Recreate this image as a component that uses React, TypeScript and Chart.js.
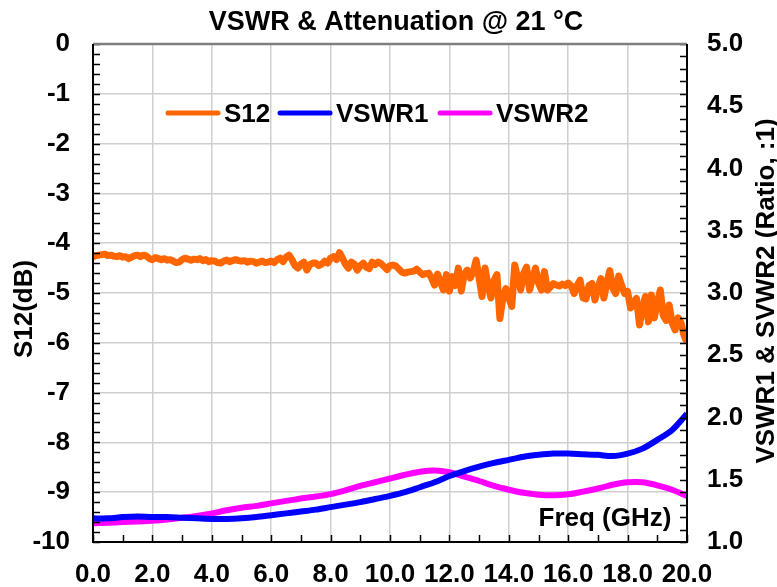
import React, { useEffect, useRef } from 'react';
import { Chart, registerables } from 'chart.js';

Chart.register(...registerables);

const chartTitle = 'VSWR & Attenuation @ 21 °C';
const leftAxisTitle = 'S12(dB)';
const rightAxisTitle = 'VSWR1 & SVWR2 (Ratio, :1)';
const xAxisTitle = 'Freq (GHz)';
const seriesNames = ['S12', 'VSWR1', 'VSWR2'];
const seriesColors = ['#FF6600', '#0000FF', '#FF00FF'];

// S12 sweep: 0.0 .. 20.0 GHz every 0.1 GHz
const s12Freq = Array.from({ length: 201 }, (_, i) => Math.round(i) / 10);
const s12Values = [
  -4.27, -4.25, -4.24, -4.23, -4.22, -4.25, -4.24, -4.26, -4.27, -4.25,
  -4.28, -4.27, -4.31, -4.28, -4.25, -4.24, -4.27, -4.24, -4.26, -4.31,
  -4.33, -4.29, -4.31, -4.33, -4.31, -4.34, -4.33, -4.36, -4.39, -4.38,
  -4.33, -4.30, -4.32, -4.34, -4.32, -4.33, -4.31, -4.35, -4.33, -4.37,
  -4.35, -4.36, -4.39, -4.40, -4.36, -4.34, -4.37, -4.35, -4.33, -4.35,
  -4.36, -4.35, -4.38, -4.36, -4.37, -4.40, -4.38, -4.36, -4.39, -4.38,
  -4.36, -4.39, -4.33, -4.30, -4.37, -4.28, -4.24, -4.33, -4.45, -4.50,
  -4.42, -4.38, -4.54, -4.43, -4.40, -4.40, -4.45, -4.42, -4.36, -4.40,
  -4.30, -4.27, -4.33, -4.19, -4.30, -4.42, -4.50, -4.38, -4.42, -4.54,
  -4.45, -4.40, -4.48, -4.51, -4.38, -4.43, -4.38, -4.41, -4.47, -4.53,
  -4.45, -4.44, -4.46, -4.52, -4.58, -4.60, -4.58, -4.57, -4.56, -4.52,
  -4.58, -4.63, -4.61, -4.60, -4.70, -4.84, -4.62, -4.78, -4.94, -4.63,
  -4.96, -4.67, -4.85, -4.50, -4.96, -4.62, -4.54, -4.70, -4.58, -4.34,
  -4.70, -5.07, -4.50, -4.85, -5.10, -4.75, -4.63, -5.51, -5.10, -4.91,
  -5.10, -5.27, -4.44, -4.70, -4.94, -4.60, -4.48, -4.94, -4.70, -4.50,
  -4.80, -4.94, -4.57, -4.94, -4.88, -4.81, -4.84, -4.86, -4.82, -4.85,
  -4.80, -4.86, -5.01, -4.85, -4.74, -5.10, -5.12, -4.85, -4.81, -5.14,
  -4.90, -4.71, -5.10, -4.80, -4.55, -4.90, -5.01, -4.66, -4.85, -5.01,
  -4.97, -5.30, -5.20, -5.11, -5.64, -5.30, -5.07, -5.58, -5.04, -5.50,
  -5.20, -4.94, -5.45, -5.55, -5.24, -5.60, -5.74, -5.50, -5.60, -5.85,
  -6.00,
];

// VSWR sweep: 0.0 .. 20.0 GHz every 0.5 GHz
const vswrFreq = Array.from({ length: 41 }, (_, i) => i / 2);
const vswr1Values = [
  1.19, 1.19, 1.20, 1.205, 1.20, 1.20, 1.195, 1.19, 1.185, 1.185,
  1.19, 1.20, 1.215, 1.23, 1.245, 1.26, 1.28, 1.30, 1.32, 1.345,
  1.37, 1.40, 1.44, 1.48, 1.53, 1.57, 1.605, 1.635, 1.66, 1.685,
  1.70, 1.71, 1.71, 1.705, 1.70, 1.69, 1.71, 1.75, 1.82, 1.90,
  2.03,
];
const vswr2Values = [
  1.15, 1.155, 1.16, 1.165, 1.17, 1.18, 1.195, 1.21, 1.23, 1.255,
  1.275, 1.29, 1.31, 1.33, 1.35, 1.365, 1.385, 1.415, 1.45, 1.48,
  1.51, 1.54, 1.565, 1.575, 1.56, 1.525, 1.49, 1.45, 1.42, 1.395,
  1.38, 1.375, 1.383, 1.405, 1.43, 1.46, 1.48, 1.48, 1.455, 1.42,
  1.37,
];

const FONT = "'Liberation Sans', Arial, sans-serif";
const FS = 26;

const decorPlugin = {
  id: 'decor',
  beforeDraw(chart: any) {
    const { ctx, width, height } = chart;
    ctx.save();
    ctx.fillStyle = '#ffffff';
    ctx.fillRect(0, 0, width, height);
    ctx.restore();
  },
  afterDatasetsDraw(chart: any) {
    const { ctx, chartArea, scales } = chart;
    const { left, right, top, bottom } = chartArea;
    ctx.save();
    // inside minor ticks
    ctx.strokeStyle = '#000';
    ctx.lineWidth = 1.5;
    ctx.beginPath();
    for (let i = 0; i <= 50; i++) {
      const y = Math.round(scales.y.getPixelForValue(-10 + i * 0.2)) + 0.5;
      ctx.moveTo(left, y);
      ctx.lineTo(left + 7, y);
    }
    for (let i = 0; i <= 40; i++) {
      const y = Math.round(scales.y2.getPixelForValue(1 + i * 0.1)) + 0.5;
      ctx.moveTo(right - 7, y);
      ctx.lineTo(right, y);
    }
    for (let i = 0; i <= 20; i++) {
      const x = Math.round(scales.x.getPixelForValue(i)) + 0.5;
      ctx.moveTo(x, bottom);
      ctx.lineTo(x, bottom - 7);
    }
    ctx.stroke();
    // frame
    ctx.lineWidth = 2.5;
    ctx.strokeStyle = '#7f7f7f';
    ctx.beginPath();
    ctx.moveTo(left, top);
    ctx.lineTo(right, top);
    ctx.stroke();
    ctx.lineWidth = 2;
    ctx.strokeStyle = '#000';
    ctx.beginPath();
    ctx.moveTo(left, top);
    ctx.lineTo(left, bottom);
    ctx.lineTo(right, bottom);
    ctx.lineTo(right, top);
    ctx.stroke();
    ctx.restore();
  },
  afterDraw(chart: any) {
    const { ctx, chartArea } = chart;
    const { left, right, top, bottom } = chartArea;
    ctx.save();
    ctx.fillStyle = '#000';
    ctx.textBaseline = 'alphabetic';
    // main title
    ctx.font = `bold 27px ${FONT}`;
    ctx.textAlign = 'center';
    ctx.fillText(chartTitle, (left + right) / 2 + 6, 30);
    ctx.font = `bold ${FS}px ${FONT}`;
    // x axis title inside plot
    ctx.fillText(xAxisTitle, right - 82, bottom - 16);
    // left axis title
    ctx.save();
    ctx.translate(32, (top + bottom) / 2 + 16);
    ctx.rotate(-Math.PI / 2);
    ctx.fillText(leftAxisTitle, 0, 0);
    ctx.restore();
    // right axis title
    ctx.save();
    ctx.translate(774, (top + bottom) / 2 - 2);
    ctx.rotate(-Math.PI / 2);
    ctx.fillText(rightAxisTitle, 0, 0);
    ctx.restore();
    // legend inside plot
    const starts = [166, 278, 438];
    const ly = top + 69;
    ctx.textAlign = 'left';
    seriesNames.forEach((name, i) => {
      const x0 = left + (starts[i] - 93);
      ctx.strokeStyle = seriesColors[i];
      ctx.lineWidth = 5;
      ctx.lineCap = 'round';
      ctx.beginPath();
      ctx.moveTo(x0 + 2, ly);
      ctx.lineTo(x0 + 52, ly);
      ctx.stroke();
      ctx.fillText(name, x0 + 58, ly + 9);
    });
    ctx.restore();
  },
};

export default function App() {
  const canvasRef = useRef<HTMLCanvasElement | null>(null);

  useEffect(() => {
    document.body.style.margin = '0';
    const canvas = canvasRef.current;
    if (!canvas) return;
    const tickFont = { family: FONT, size: FS, weight: 'bold' as const };
    const gridColor = '#cfcfcf';
    const chart = new Chart(canvas, {
      type: 'line',
      data: {
        datasets: [
          {
            label: seriesNames[0],
            data: s12Freq.map((f, i) => ({ x: f, y: s12Values[i] })),
            borderColor: seriesColors[0],
            backgroundColor: seriesColors[0],
            borderWidth: 7,
            pointRadius: 0,
            tension: 0,
            borderJoinStyle: 'round',
            yAxisID: 'y',
          },
          {
            label: seriesNames[1],
            data: vswrFreq.map((f, i) => ({ x: f, y: vswr1Values[i] })),
            borderColor: seriesColors[1],
            backgroundColor: seriesColors[1],
            borderWidth: 6,
            pointRadius: 0,
            tension: 0.3,
            yAxisID: 'y2',
          },
          {
            label: seriesNames[2],
            data: vswrFreq.map((f, i) => ({ x: f, y: vswr2Values[i] })),
            borderColor: seriesColors[2],
            backgroundColor: seriesColors[2],
            borderWidth: 6,
            pointRadius: 0,
            tension: 0.3,
            yAxisID: 'y2',
          },
        ],
      },
      options: {
        responsive: false,
        animation: false,
        layout: { padding: { top: 44, left: 0, right: 0, bottom: 0 } },
        plugins: {
          legend: { display: false },
          title: { display: false },
          tooltip: { enabled: false },
        },
        scales: {
          x: {
            type: 'linear',
            min: 0,
            max: 20,
            ticks: {
              stepSize: 2,
              autoSkip: false,
              maxRotation: 0,
              color: '#000',
              font: tickFont,
              padding: 17,
              callback: (v: any) => Number(v).toFixed(1),
            },
            grid: { color: gridColor, lineWidth: 1.5, drawTicks: false },
            border: { display: false },
            afterFit: (s: any) => { s.height = 45; },
          },
          y: {
            type: 'linear',
            position: 'left',
            min: -10,
            max: 0,
            ticks: {
              stepSize: 1,
              color: '#000',
              font: tickFont,
              padding: 23,
              callback: (v: any) => String(Number(v)),
            },
            grid: { color: gridColor, lineWidth: 1.5, drawTicks: false },
            border: { display: false },
            afterFit: (s: any) => { s.width = 93; },
          },
          y2: {
            type: 'linear',
            position: 'right',
            min: 1,
            max: 5,
            ticks: {
              stepSize: 0.5,
              color: '#000',
              font: tickFont,
              padding: 20,
              callback: (v: any) => Number(v).toFixed(1),
            },
            grid: { display: false, drawTicks: false },
            border: { display: false },
            afterFit: (s: any) => { s.width = 90; },
          },
        },
      },
      plugins: [decorPlugin],
    } as any);
    return () => chart.destroy();
  }, []);

  return (
    <div style={{ position: 'absolute', left: 0, top: 0, width: 777, height: 587 }}>
      <canvas ref={canvasRef} width={777} height={587} style={{ display: 'block' }} />
    </div>
  );
}
